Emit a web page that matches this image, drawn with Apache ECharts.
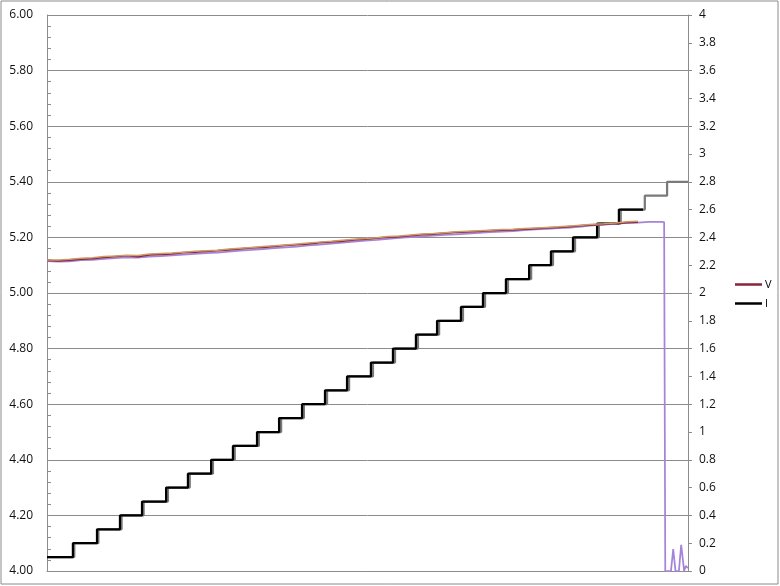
<!DOCTYPE html>
<html>
<head>
<meta charset="utf-8">
<script src="https://cdn.jsdelivr.net/npm/echarts@6/dist/echarts.min.js"></script>
<style>html,body{margin:0;padding:0;background:#fff}#c{width:780px;height:586px}</style>
</head>
<body>
<div id="c"></div>
<script>
// Voltage sample times (x units) and values
var vTimes = [0,5,10,15,20,25,30,35,40,45,50,55,60,65,70,75,80,85,90,95,100,105,110,115,120,125,130,135,140,145,150,155,160,165,170,175,180,185,190,195,200,205,210,215,220,225,230,235,240,245,250,255,260];
var vRed = [5.117,5.116,5.118,5.122,5.124,5.128,5.131,5.134,5.131,5.137,5.139,5.141,5.145,5.147,5.150,5.152,5.155,5.159,5.162,5.164,5.168,5.171,5.174,5.177,5.181,5.184,5.187,5.191,5.194,5.197,5.201,5.203,5.206,5.210,5.212,5.215,5.218,5.220,5.222,5.224,5.226,5.227,5.230,5.232,5.234,5.236,5.239,5.242,5.245,5.247,5.250,5.253,5.255];
var vTan = [5.119,5.119,5.121,5.125,5.127,5.131,5.133,5.136,5.135,5.140,5.142,5.144,5.147,5.150,5.152,5.154,5.158,5.161,5.164,5.167,5.170,5.173,5.176,5.180,5.183,5.186,5.190,5.193,5.196,5.199,5.203,5.205,5.209,5.212,5.214,5.217,5.220,5.222,5.224,5.226,5.228,5.229,5.232,5.234,5.236,5.238,5.241,5.244,5.247,5.249,5.252,5.256,5.258];
var vPurple = [5.115,5.113,5.114,5.118,5.119,5.123,5.125,5.128,5.127,5.131,5.133,5.135,5.138,5.141,5.143,5.145,5.149,5.152,5.155,5.158,5.161,5.164,5.167,5.171,5.174,5.178,5.181,5.185,5.188,5.191,5.195,5.198,5.201,5.204,5.206,5.209,5.211,5.214,5.216,5.219,5.221,5.223,5.226,5.229,5.231,5.233,5.235,5.239,5.243,5.246,5.249,5.252,5.253];
var purpleTailTimes = [265,270,271.5,272,274.5,275.5,276.5,278,279,280.3,281,282];
var purpleTailValues = [5.256,5.256,5.255,4.0,4.0,4.079,4.0,4.0,4.094,4.0,4.018,4.01];

// Current staircase: transition times and levels
var iTimes = [0,11.4,22.0,32.1,41.8,52.4,62.0,72.2,81.8,92.4,102.1,112.2,122.3,132.0,142.5,152.2,162.3,171.6,182.1,191.8,201.9,212.1,221.7,231.4,242.0,251.6,262.2];
var iBlack = [0.1,0.2,0.3,0.4,0.5,0.6,0.7,0.8,0.9,1.0,1.1,1.2,1.3,1.4,1.5,1.6,1.7,1.8,1.9,2.0,2.1,2.2,2.3,2.4,2.5,2.6,2.6];
var iGrayTimes = [0,12.0,22.6,32.8,42.5,53.2,62.8,73.0,82.6,93.2,103.0,113.0,123.2,132.9,143.4,153.1,163.2,172.5,183.0,192.7,202.8,213.0,222.6,232.3,242.8,252.4,263.0,272.8,282];
var iGray = [0.1,0.2,0.3,0.4,0.5,0.6,0.7,0.8,0.9,1.0,1.1,1.2,1.3,1.4,1.5,1.6,1.7,1.8,1.9,2.0,2.1,2.2,2.3,2.4,2.5,2.6,2.7,2.8,2.8];

var leftTicks = {min:4, max:6, interval:0.2};
var rightTicks = {min:0, max:4, interval:0.2};

function zip(xs, ys){ var o=[]; for(var i=0;i<xs.length;i++) o.push([xs[i], ys[i]]); return o; }

var chart = echarts.init(document.getElementById('c'), null, {renderer:'canvas'});
var font = '"Open Sans", "Noto Sans", sans-serif';
chart.setOption({
  animation:false,
  backgroundColor:'#fff',
  textStyle:{fontFamily:font},
  graphic:[{type:'rect', shape:{x:1,y:1,width:777,height:583}, style:{fill:'none', stroke:'#8a8a8a', lineWidth:1}, silent:true, z:-1}],
  grid:{left:47, right:92, top:15, bottom:15, containLabel:false},
  legend:{
    data:['V','I'], orient:'vertical', left:730, top:274, itemGap:8,
    icon:'rect', itemWidth:27, itemHeight:2.5,
    textStyle:{fontSize:11, color:'#000', fontFamily:font, padding:[0,0,0,-2]}
  },
  xAxis:{type:'value', min:0, max:282, axisLine:{show:true, lineStyle:{color:'#8c8c8c'}}, axisTick:{show:false}, axisLabel:{show:false}, splitLine:{show:false}},
  yAxis:[
    {type:'value', position:'left', min:leftTicks.min, max:leftTicks.max, interval:leftTicks.interval,
     axisLine:{show:true, lineStyle:{color:'#8c8c8c'}},
     axisTick:{show:true, inside:true, length:4, lineStyle:{color:'#8c8c8c'}},
     minorTick:{show:true, splitNumber:5, length:4, lineStyle:{color:'#8c8c8c'}},
     axisLabel:{margin:14, fontSize:12, color:'#111', fontFamily:font, formatter:function(v){return v.toFixed(2);}},
     splitLine:{show:true, lineStyle:{color:'#8c8c8c', width:1}}},
    {type:'value', position:'right', min:rightTicks.min, max:rightTicks.max, interval:rightTicks.interval,
     axisLine:{show:true, lineStyle:{color:'#8c8c8c'}},
     axisTick:{show:true, inside:false, length:4, lineStyle:{color:'#8c8c8c'}},
     axisLabel:{margin:11, fontSize:12, color:'#111', fontFamily:font, formatter:function(v){return String(Math.round(v*10)/10);}},
     splitLine:{show:false}}
  ],
  series:[
    {name:'I2', type:'line', yAxisIndex:1, step:'end', showSymbol:false, symbol:'none', data:zip(iGrayTimes, iGray), lineStyle:{color:'#7a7a7a', width:2.25}, itemStyle:{color:'#7a7a7a'}, z:2},
    {name:'I', type:'line', yAxisIndex:1, step:'end', showSymbol:false, symbol:'none', data:zip(iTimes, iBlack), lineStyle:{color:'#000', width:2.25}, itemStyle:{color:'#000'}, z:3},
    {name:'V3', type:'line', yAxisIndex:0, showSymbol:false, symbol:'none', data:zip(vTimes, vPurple).concat(zip(purpleTailTimes, purpleTailValues)), lineStyle:{color:'#a683d8', width:1.75}, itemStyle:{color:'#a683d8'}, z:4},
    {name:'V', type:'line', yAxisIndex:0, showSymbol:false, symbol:'none', data:zip(vTimes, vRed), lineStyle:{color:'#86243a', width:1.75}, itemStyle:{color:'#86243a'}, z:5},
    {name:'V2', type:'line', yAxisIndex:0, showSymbol:false, symbol:'none', data:zip(vTimes, vTan), lineStyle:{color:'#cd9a68', width:1.5}, itemStyle:{color:'#cd9a68'}, z:6}
  ]
});
</script>
</body>
</html>
